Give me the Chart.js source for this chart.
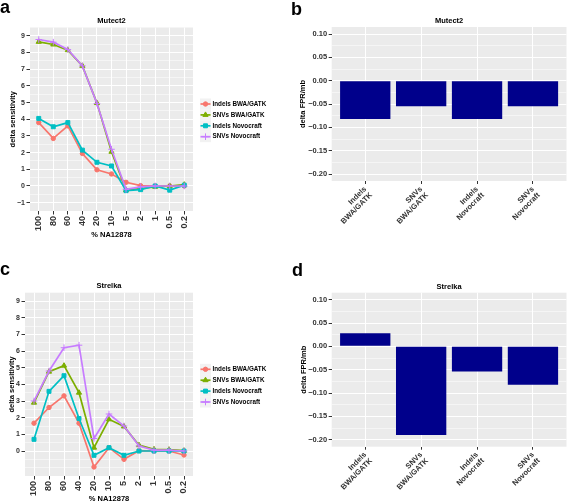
<!DOCTYPE html>
<html>
<head>
<meta charset="utf-8">
<script src="https://cdn.jsdelivr.net/npm/chart.js@4.4.1/dist/chart.umd.min.js"></script>
<style>
html,body{margin:0;padding:0;background:#fff;}
#wrap{position:relative;width:567px;height:503px;overflow:hidden;background:#fff;}
#wrap canvas{position:absolute;}
.lbl{position:absolute;font-family:"Liberation Sans",Arial,sans-serif;font-weight:bold;font-size:18px;line-height:1;color:#000;}
</style>
</head>
<body>
<div id="wrap">
  <canvas id="ca" width="280" height="250" style="left:0;top:0"></canvas>
  <canvas id="cb" width="287" height="250" style="left:280px;top:0"></canvas>
  <canvas id="cc" width="280" height="253" style="left:0;top:250px"></canvas>
  <canvas id="cd" width="287" height="253" style="left:280px;top:250px"></canvas>
  <div class="lbl" style="left:0;top:-1.7px">a</div>
  <div class="lbl" style="left:291px;top:-0.5px">b</div>
  <div class="lbl" style="left:0;top:259.8px">c</div>
  <div class="lbl" style="left:292px;top:261.3px">d</div>
</div>
<script>
// ---------- data ----------
const categories = ['100', '80', '60', '40', '20', '10', '5', '2', '1', '0.5', '0.2'];
const seriesNames = ['Indels BWA/GATK', 'SNVs BWA/GATK', 'Indels Novocraft', 'SNVs Novocraft'];

const mutectIndelsBwa  = [3.80, 2.85, 3.60, 1.95, 0.97, 0.72, 0.22, 0.02, 0.00, 0.00, 0.00];
const mutectSnvsBwa    = [8.64, 8.48, 8.14, 7.20, 4.97, 2.05, -0.25, -0.15, -0.05, 0.00, 0.08];
const mutectIndelsNovo = [4.05, 3.55, 3.80, 2.15, 1.42, 1.20, -0.28, -0.22, 0.00, -0.25, 0.05];
const mutectSnvsNovo   = [8.78, 8.62, 8.18, 7.20, 4.95, 2.20, -0.20, -0.05, 0.00, 0.00, 0.00];

const strelkaIndelsBwa  = [1.67, 2.61, 3.31, 1.67, -0.96, 0.20, -0.50, 0.02, 0.00, 0.00, -0.24];
const strelkaSnvsBwa    = [2.90, 4.76, 5.12, 3.50, 0.20, 1.90, 1.47, 0.35, 0.10, 0.08, 0.02];
const strelkaIndelsNovo = [0.70, 3.58, 4.52, 1.95, -0.26, 0.20, -0.26, 0.00, 0.00, 0.00, 0.00];
const strelkaSnvsNovo   = [3.00, 4.80, 6.20, 6.35, 0.75, 2.22, 1.50, 0.30, 0.05, 0.05, 0.00];

const mutectFpr  = [-0.082, -0.055, -0.082, -0.055];
const strelkaFpr = [0.028, -0.190, -0.054, -0.082];

// ---------- styles ----------
const FONT = '"Liberation Sans", Arial, sans-serif';
const seriesColors = ['#F8766D', '#7CAE00', '#00BFC4', '#C77CFF'];
const pointStyles = ['circle', 'triangle', 'rect', 'cross'];
const pointRadii = [2.2, 3.0, 2.8, 3.3];
const BAR_COLOR = '#00008B';
const PANEL_BG = '#EBEBEB';
const TICK_TEXT = '#333';

Chart.defaults.font.family = FONT;

function fmtNum(v, d) {
  const s = Math.abs(v).toFixed(d);
  return (v < -1e-9 ? '\u2212' : '') + s;
}

const ggBg = {
  id: 'ggBg',
  beforeDraw(chart) {
    const { ctx, chartArea: a } = chart;
    ctx.save();
    ctx.fillStyle = PANEL_BG;
    ctx.fillRect(a.left, a.top, a.right - a.left, a.bottom - a.top);
    ctx.restore();
  }
};

function drawShape(ctx, style, x, y, r, color) {
  ctx.save();
  ctx.fillStyle = color; ctx.strokeStyle = color; ctx.lineWidth = 1;
  ctx.beginPath();
  if (style === 'circle') {
    ctx.arc(x, y, r, 0, Math.PI * 2); ctx.fill(); ctx.stroke();
  } else if (style === 'triangle') {
    ctx.moveTo(x, y - r);
    ctx.lineTo(x + r * 0.866, y + r * 0.5);
    ctx.lineTo(x - r * 0.866, y + r * 0.5);
    ctx.closePath(); ctx.fill(); ctx.stroke();
  } else if (style === 'rect') {
    const s = r * Math.SQRT1_2;
    ctx.rect(x - s, y - s, 2 * s, 2 * s); ctx.fill(); ctx.stroke();
  } else {
    ctx.moveTo(x - r, y); ctx.lineTo(x + r, y);
    ctx.moveTo(x, y - r); ctx.lineTo(x, y + r); ctx.stroke();
  }
  ctx.restore();
}

const ggLegend = {
  id: 'ggLegend',
  afterDraw(chart, args, opts) {
    if (!opts || opts.x === undefined) return;
    const ctx = chart.ctx;
    chart.data.datasets.forEach((ds, i) => {
      const cy = opts.y0 + i * opts.dy;
      ctx.save();
      ctx.fillStyle = '#F2F2F2';
      ctx.fillRect(opts.x, cy - opts.key / 2, opts.key, opts.key);
      ctx.strokeStyle = ds.borderColor;
      ctx.lineWidth = ds.borderWidth;
      ctx.beginPath();
      ctx.moveTo(opts.x + 0.5, cy);
      ctx.lineTo(opts.x + opts.key - 0.5, cy);
      ctx.stroke();
      ctx.restore();
      drawShape(ctx, ds.pointStyle, opts.x + opts.key / 2, cy, ds.pointRadius, ds.borderColor);
      ctx.save();
      ctx.fillStyle = '#000';
      ctx.font = 'bold 6.3px ' + FONT;
      ctx.textBaseline = 'middle';
      ctx.textAlign = 'left';
      ctx.fillText(ds.label, opts.textX, cy);
      ctx.restore();
    });
  }
};

function lineChart(id, titleText, series, cfg) {
  const isMajorY = v => Math.abs(v - Math.round(v)) < 1e-6 && Math.round(v) >= cfg.firstLabel;
  return new Chart(document.getElementById(id), {
    type: 'line',
    data: {
      datasets: series.map((arr, k) => ({
        label: seriesNames[k],
        data: arr.map((v, i) => ({ x: i, y: v })),
        borderColor: seriesColors[k],
        backgroundColor: seriesColors[k],
        borderWidth: 1.7,
        tension: 0,
        pointStyle: pointStyles[k],
        pointRadius: pointRadii[k],
        pointBorderWidth: 1,
        pointBorderColor: seriesColors[k],
        pointBackgroundColor: seriesColors[k],
        order: series.length - 1 - k
      }))
    },
    options: {
      responsive: false, animation: false, events: [],
      layout: { padding: { left: 0, right: cfg.padRight, top: 0, bottom: 0 } },
      plugins: {
        legend: { display: false },
        tooltip: { enabled: false },
        title: {
          display: true, text: titleText, fullSize: false, color: '#000',
          font: { size: 7.5, weight: 'bold', lineHeight: 1.2 },
          padding: { top: cfg.titleTop, bottom: cfg.titleBottom }
        },
        ggLegend: { x: 200, y0: cfg.legendY0, dy: 10.9, key: 11, textX: 212.5 }
      },
      scales: {
        x: {
          type: 'linear', min: -0.6, max: 10.6,
          afterBuildTicks: s => { s.ticks = categories.map((c, i) => ({ value: i })); },
          afterFit: s => { s.height = cfg.xHeight; },
          border: { display: false },
          grid: { color: '#fff', lineWidth: 1, tickColor: TICK_TEXT, tickLength: 3.5, tickWidth: 1 },
          ticks: {
            autoSkip: false, minRotation: 90, maxRotation: 90, padding: 1.5, color: TICK_TEXT,
            font: { size: 9, weight: 'bold' },
            callback: v => categories[v]
          },
          title: {
            display: true, text: '% NA12878', color: '#000',
            font: { size: 7.5, weight: 'bold', lineHeight: 1.2 },
            padding: { top: 0, bottom: cfg.xTitlePad }
          }
        },
        y: {
          type: 'linear', min: -1.5, max: 9.5,
          afterBuildTicks: s => { const t = []; for (let k = -2; k <= 18; k++) t.push({ value: k / 2 }); s.ticks = t; },
          afterFit: s => { s.width = cfg.yWidth; },
          border: { display: false },
          grid: {
            color: '#fff',
            lineWidth: c => (c.tick && isMajorY(c.tick.value)) ? 1 : 0.5,
            tickColor: c => (c.tick && isMajorY(c.tick.value)) ? TICK_TEXT : 'rgba(0,0,0,0)',
            tickLength: 3.5, tickWidth: 1
          },
          ticks: {
            autoSkip: false, padding: 1.5, color: TICK_TEXT,
            font: { size: 7, weight: 'bold' },
            callback: v => isMajorY(v) ? fmtNum(Math.round(v), 0) : ''
          },
          title: {
            display: true, text: 'delta sensitivity', color: '#000',
            font: { size: 7.5, weight: 'bold', lineHeight: 1.2 },
            padding: { top: cfg.yTitlePad, bottom: 0 }
          }
        }
      }
    },
    plugins: [ggBg, ggLegend]
  });
}

function barChart(id, titleText, values, cfg) {
  const isMajorY = v => Math.abs(Math.round(v * 40)) % 2 === 0;
  return new Chart(document.getElementById(id), {
    type: 'bar',
    data: {
      datasets: [{
        data: values.map((v, i) => ({ x: i + 1, y: v })),
        backgroundColor: BAR_COLOR,
        borderWidth: 0,
        barPercentage: 0.9,
        categoryPercentage: 1
      }]
    },
    options: {
      responsive: false, animation: false, events: [],
      layout: { padding: { left: 0, right: cfg.padRight, top: 0, bottom: 0 } },
      plugins: {
        legend: { display: false },
        tooltip: { enabled: false },
        title: {
          display: true, text: titleText, fullSize: false, color: '#000',
          font: { size: 7.5, weight: 'bold', lineHeight: 1.2 },
          padding: { top: cfg.titleTop, bottom: cfg.titleBottom }
        }
      },
      scales: {
        x: {
          type: 'linear', min: 0.4, max: 4.6, offset: false,
          afterBuildTicks: s => { s.ticks = seriesNames.map((n, i) => ({ value: i + 1 })); },
          afterFit: s => { s.height = cfg.xHeight; },
          border: { display: false },
          grid: { offset: false, color: '#fff', lineWidth: 1, tickColor: TICK_TEXT, tickLength: 3, tickWidth: 1 },
          ticks: {
            autoSkip: false, minRotation: 45, maxRotation: 45, padding: 1, color: TICK_TEXT,
            font: { size: 7.6, weight: 'bold', lineHeight: 1.1 },
            callback: v => {
              const n = seriesNames[Math.round(v) - 1] || '';
              const p = n.indexOf(' ');
              return [n.slice(0, p), n.slice(p + 1)];
            }
          }
        },
        y: {
          type: 'linear', min: -0.215, max: 0.115,
          afterBuildTicks: s => { const t = []; for (let k = -8; k <= 4; k++) t.push({ value: k / 40 }); s.ticks = t; },
          afterFit: s => { s.width = cfg.yWidth; },
          border: { display: false },
          grid: {
            color: '#fff',
            lineWidth: c => (c.tick && isMajorY(c.tick.value)) ? 1 : 0.5,
            tickColor: c => (c.tick && isMajorY(c.tick.value)) ? TICK_TEXT : 'rgba(0,0,0,0)',
            tickLength: 3, tickWidth: 1
          },
          ticks: {
            autoSkip: false, padding: 1.5, color: TICK_TEXT,
            font: { size: 7.5, weight: 'bold' },
            callback: v => isMajorY(v) ? fmtNum(v, 2) : ''
          },
          title: {
            display: true, text: 'delta FPR/mb', color: '#000',
            font: { size: 7.5, weight: 'bold', lineHeight: 1.2 },
            padding: { top: cfg.yTitlePad, bottom: 0 }
          }
        }
      }
    },
    plugins: [ggBg]
  });
}

lineChart('ca', 'Mutect2', [mutectIndelsBwa, mutectSnvsBwa, mutectIndelsNovo, mutectSnvsNovo], {
  padRight: 87, titleTop: 16.2, titleBottom: 2.3, xHeight: 39, xTitlePad: 10.5,
  yWidth: 30, yTitlePad: 8.5, legendY0: 104, firstLabel: -1
});
lineChart('cc', 'Strelka', [strelkaIndelsBwa, strelkaSnvsBwa, strelkaIndelsNovo, strelkaSnvsNovo], {
  padRight: 87, titleTop: 31.5, titleBottom: 2.2, xHeight: 27, xTitlePad: 0,
  yWidth: 25, yTitlePad: 7.2, legendY0: 119.3, firstLabel: 0
});
barChart('cb', 'Mutect2', mutectFpr, {
  padRight: 0.5, titleTop: 16.2, titleBottom: 1.8, xHeight: 69, yWidth: 51.7, yTitlePad: 18.5
});
barChart('cd', 'Strelka', strelkaFpr, {
  padRight: 0.5, titleTop: 32.5, titleBottom: 1.2, xHeight: 56.3, yWidth: 51.7, yTitlePad: 19.5
});
</script>
</body>
</html>
